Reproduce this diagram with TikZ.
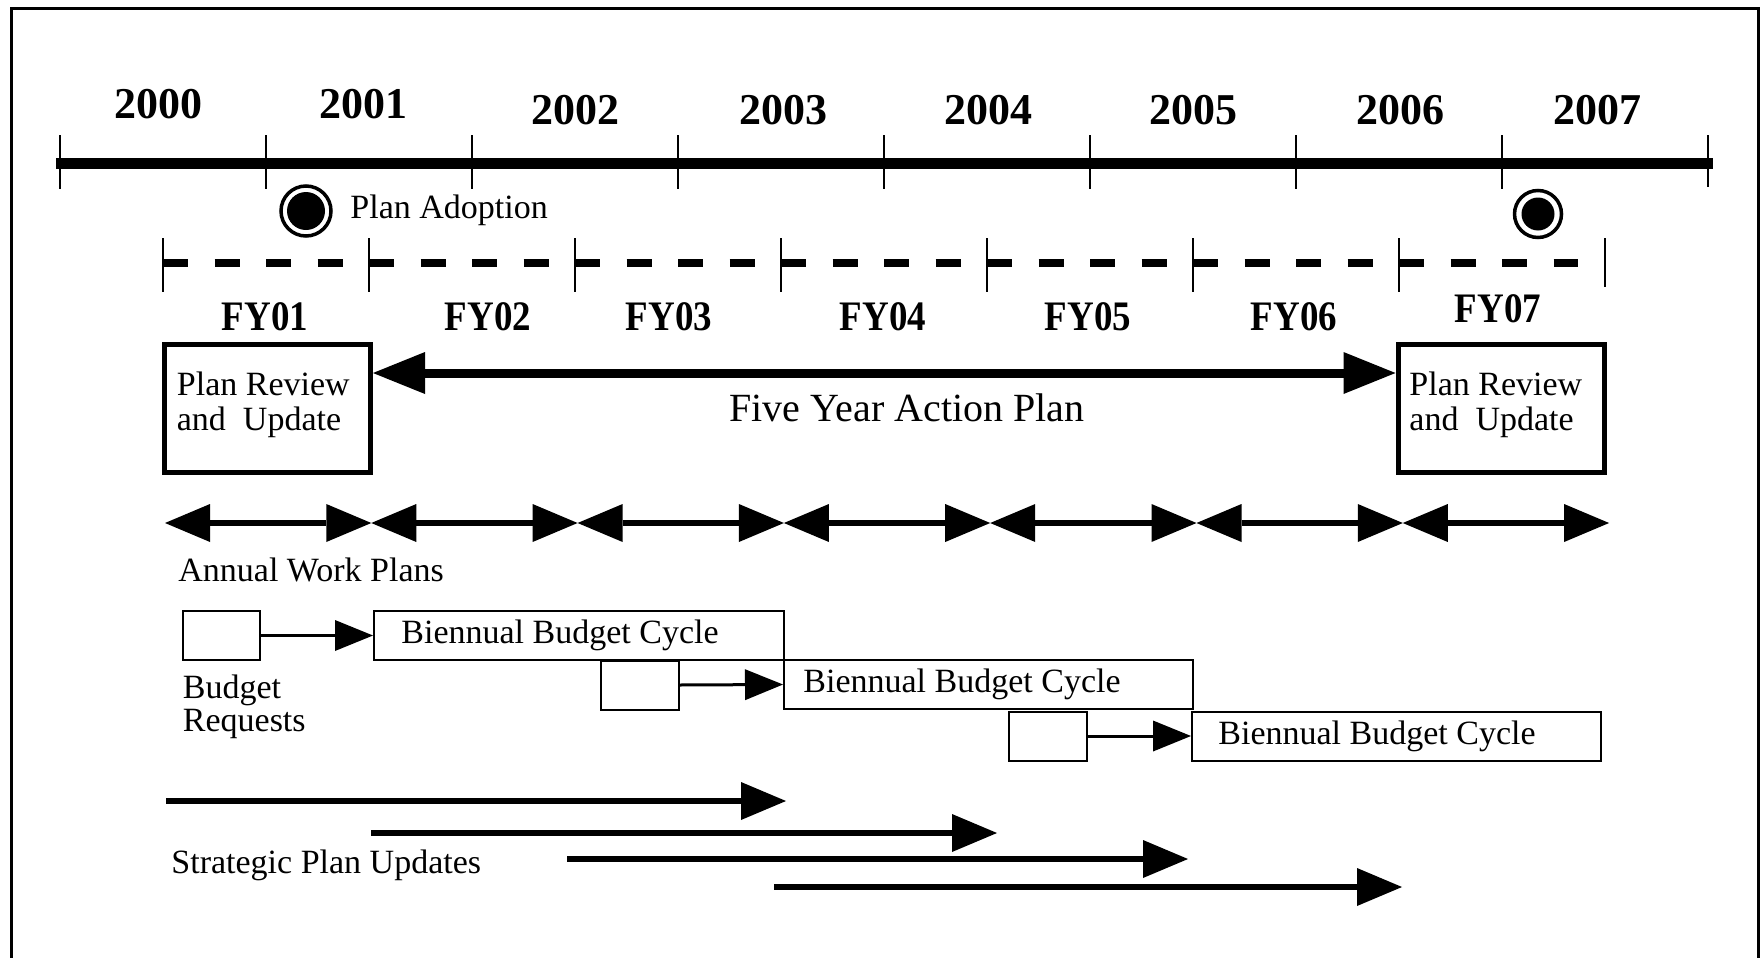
\documentclass[tikz,border=0pt]{standalone}
\usepackage{fontspec}
\setmainfont{Liberation Serif}
\usetikzlibrary{arrows.meta}
\newcommand{\narrowfy}[1]{\scalebox{0.88}[1]{#1}}
\begin{document}
\begin{tikzpicture}[x=0.5pt,y=-0.5pt,
  txt/.style={font=\fontsize{17}{20}\selectfont, inner sep=0pt},
  bigtxt/.style={font=\fontsize{20}{24}\selectfont, inner sep=0pt},
  yr/.style={font=\bfseries\fontsize{22}{26}\selectfont, inner sep=0pt, anchor=base},
  fylab/.style={font=\bfseries\fontsize{21}{25}\selectfont, inner sep=0pt, anchor=base},
  bigbox/.style={draw, line width=2.5pt, minimum width=103pt, minimum height=64pt, inner sep=0pt},
  smallbox/.style={draw, line width=1pt, minimum width=38.75pt, minimum height=24.5pt, inner sep=0pt},
  cyclebox/.style={draw, line width=1pt, minimum height=24.5pt, inner sep=0pt},
  ring/.style={draw, circle, line width=1.75pt, inner sep=0pt},
  dot/.style={fill, circle, inner sep=0pt},
  fivearrow/.style={line width=4.5pt, {Triangle[length=26pt,width=21pt,line width=0pt]}-{Triangle[length=26pt,width=21pt,line width=0pt]}},
  annarrow/.style={line width=3.2pt, {Triangle[length=22.5pt,width=19pt,line width=0pt]}-{Triangle[length=22.5pt,width=19pt,line width=0pt]}},
  budarrow/.style={line width=1.5pt, -{Triangle[length=19pt,width=15.5pt,line width=0pt]}},
  stratarrow/.style={line width=3pt, -{Triangle[length=22.5pt,width=19pt,line width=0pt]}},
]
\useasboundingbox (0,0) rectangle (1762,958);
% frame (open at the bottom)
\draw[line width=1.5pt] (11.5,958) -- (11.5,8.5) -- (1758.5,8.5) -- (1758.5,958);

% calendar timeline
\draw[line width=5.5pt] (56,163) -- (1713,163);
\foreach \i in {0,...,7} \draw[line width=1pt] ({60+206*\i},135) -- ({60+206*\i},189);
\draw[line width=1pt] (1708,135) -- (1708,187);
\node[yr] (y2000) at (158,118) {2000};
\node[yr] (y2001) at (363,118) {2001};
\node[yr] (y2002) at (575,124) {2002};
\node[yr] (y2003) at (783,124) {2003};
\node[yr] (y2004) at (988,124) {2004};
\node[yr] (y2005) at (1193,124) {2005};
\node[yr] (y2006) at (1400,124) {2006};
\node[yr] (y2007) at (1597,124) {2007};

% plan adoption markers
\node[ring, minimum size=25pt] (adoptring) at (306,211) {};
\node[dot, minimum size=19pt] (adoptdot) at (306,211) {};
\node[txt, anchor=base west] (adopt) at (350,218) {Plan Adoption};
\node[ring, minimum size=23.5pt] (endring) at (1538,214) {};
\node[dot, minimum size=16.5pt] (enddot) at (1538,214) {};

% fiscal year line
\draw[line width=4pt, dash pattern=on 12.5pt off 13.25pt] (163,263) -- (1578,263);
\foreach \i in {0,...,6} \draw[line width=1pt] ({163+206*\i},238) -- ({163+206*\i},292);
\draw[line width=1pt] (1605,238) -- (1605,287);
\node[fylab] (fy01) at (265,330) {\narrowfy{FY01}};
\node[fylab] (fy02) at (488,330) {\narrowfy{FY02}};
\node[fylab] (fy03) at (669,330) {\narrowfy{FY03}};
\node[fylab] (fy04) at (883,330) {\narrowfy{FY04}};
\node[fylab] (fy05) at (1088,330) {\narrowfy{FY05}};
\node[fylab] (fy06) at (1294,330) {\narrowfy{FY06}};
\node[fylab] (fy07) at (1498,322) {\narrowfy{FY07}};

% plan review boxes and five year arrow
\node[bigbox] (prl) at (267.5,408.5) {};
\node[txt, anchor=base west] (prlt1) at (176.5,395) {Plan Review};
\node[txt, anchor=base west] (prlt2) at (176.5,430) {and\ \ Update};
\node[bigbox] (prr) at (1501,408.5) {};
\node[txt, anchor=base west] (prrt1) at (1409,395) {Plan Review};
\node[txt, anchor=base west] (prrt2) at (1409,430) {and\ \ Update};
\draw[fivearrow] ([yshift=17.75pt]prl.east) -- ([yshift=17.75pt]prr.west);
\node[bigtxt, anchor=base] (five) at (907,421) {Five Year Action Plan};

% annual work plans
\foreach \i in {0,...,7} \coordinate (aw\i) at ({165+206.3*\i},523);
\foreach \i/\j in {0/1,1/2,2/3,3/4,4/5,5/6,6/7} \draw[annarrow] (aw\i) -- (aw\j);
\node[txt, anchor=base west] (annual) at (178,581) {Annual Work Plans};

% budget requests and biennial cycles
\node[smallbox] (br1) at (221.5,635.5) {};
\node[cyclebox, minimum width=205pt] (bc1) at (579,635.5) {};
\node[txt, anchor=base west] (bc1t) at (401,643) {Biennual Budget Cycle};
\draw[budarrow] (br1.east) -- (bc1.west);
\node[smallbox] (br2) at (640,685) {};
\node[cyclebox, minimum width=204.25pt] (bc2) at (988.25,684.5) {};
\node[txt, anchor=base west] (bc2t) at (803,692) {Biennual Budget Cycle};
\draw[budarrow] (br2.east) -- (bc2.west);
\node[smallbox] (br3) at (1048,736) {};
\node[cyclebox, minimum width=204.5pt] (bc3) at (1396.5,736) {};
\node[txt, anchor=base west] (bc3t) at (1218,744) {Biennual Budget Cycle};
\draw[budarrow] (br3.east) -- (bc3.west);
\node[txt, anchor=base west] (budget) at (182.5,698) {Budget};
\node[txt, anchor=base west] (requests) at (182.5,731) {Requests};

% strategic plan updates
\coordinate (s1a) at (166,801);  \coordinate (s1b) at (786,801);
\coordinate (s2a) at (371,833);  \coordinate (s2b) at (997,833);
\coordinate (s3a) at (567,859);  \coordinate (s3b) at (1188,859);
\coordinate (s4a) at (774,887);  \coordinate (s4b) at (1402,887);
\draw[stratarrow] (s1a) -- (s1b);
\draw[stratarrow] (s2a) -- (s2b);
\draw[stratarrow] (s3a) -- (s3b);
\draw[stratarrow] (s4a) -- (s4b);
\node[txt, anchor=base west] (strat) at (171,873) {Strategic Plan Updates};
\end{tikzpicture}
\end{document}
